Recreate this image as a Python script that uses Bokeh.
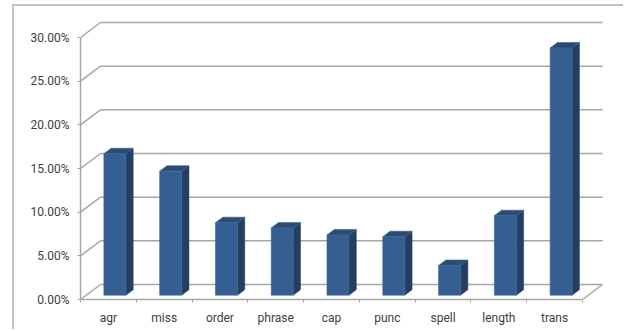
import numpy as np
from bokeh.plotting import figure
from bokeh.models import Range1d, FixedTicker, NumeralTickFormatter, CustomJSTickFormatter
from bokeh.embed import file_html
from bokeh.resources import INLINE

# ---- data ----
categories = ["agr", "miss", "order", "phrase", "cap", "punc", "spell", "length", "trans"]
values = [0.162, 0.142, 0.083, 0.077, 0.069, 0.067, 0.034, 0.091, 0.283]
y_ticks = [0.0, 0.05, 0.10, 0.15, 0.20, 0.25, 0.30]

# ---- geometry (pixels) ----
CAT_PX = 55.78          # px per category
Y_PX = 873.3            # px per 1.0 (100%)
FRAME_W, FRAME_H = 524, 279
x_end = FRAME_W / CAT_PX
y_end = FRAME_H / Y_PX
DX, DY = 20 / CAT_PX, 15 / Y_PX            # depth of the 3-D box
BAR_OFF = 6.5 / CAT_PX                      # bar shift within category
BAR_HW = 11 / CAT_PX                        # half width of front face
BAR_BASE = 4.3 / Y_PX                       # bar base lift
SDX, SDY = 7.3 / CAT_PX, 5.5 / Y_PX          # bar depth

n = len(categories)
GRID = "#a6a6a6"

p = figure(width=611, height=325, output_backend="svg", toolbar_location=None,
           x_range=Range1d(0, x_end), y_range=Range1d(0, y_end),
           min_border_left=66, min_border_top=14, min_border_right=21, min_border_bottom=32,
           margin=(4, 0, 0, 12))
p.styles = {"border-left": "2px solid #c4c4c4", "border-top": "2px solid #c4c4c4"}
p.outline_line_color = None
p.xgrid.visible = False
p.ygrid.visible = False
p.background_fill_color = "white"
p.border_fill_color = "white"

# back wall gridlines + left wall diagonals
for v in y_ticks:
    p.line([DX, n + DX], [v + DY, v + DY], line_color=GRID, line_width=1.5)
    p.line([0, DX], [v, v + DY], line_color=GRID, line_width=1.5)
# floor right edge
p.line([n, n + DX], [0, DY], line_color=GRID, line_width=1.5)

# bars
xs_c = np.arange(n) + 0.5 + BAR_OFF
vals = np.array(values)
xl = xs_c - BAR_HW
xr = xs_c + BAR_HW
yb = np.full(n, BAR_BASE)
yt = yb + vals

side_xs = [[xr[i], xr[i] + SDX, xr[i] + SDX, xr[i]] for i in range(n)]
side_ys = [[yb[i], yb[i] + SDY, yt[i] + SDY, yt[i]] for i in range(n)]
top_xs = [[xl[i], xr[i], xr[i] + SDX, xl[i] + SDX] for i in range(n)]
top_ys = [[yt[i], yt[i], yt[i] + SDY, yt[i] + SDY] for i in range(n)]
p.patches(side_xs, side_ys, fill_color="#243f62", line_color="#243f62", line_width=0.5)
p.patches(top_xs, top_ys, fill_color="#2c4c74", line_color="#3a5f8c", line_width=0.6)
p.quad(left=xl, right=xr, bottom=yb, top=yt, fill_color="#355f92", line_color="#3d6699", line_width=0.6)

# axes
FONT = "Roboto"
ya = p.yaxis[0]
ya.ticker = FixedTicker(ticks=y_ticks, minor_ticks=[])
ya.formatter = NumeralTickFormatter(format="0.00%")
ya.bounds = (0, 0.30)
ya.axis_line_color = GRID
ya.axis_line_width = 1.5
ya.major_tick_line_color = GRID
ya.major_tick_out = 3
ya.major_tick_in = 0
ya.major_label_standoff = 8
ya.major_label_text_font = FONT
ya.major_label_text_font_size = "12px"
ya.major_label_text_color = "#404040"

xa = p.xaxis[0]
xa.ticker = FixedTicker(ticks=[i + 0.5 for i in range(n)], minor_ticks=list(range(n + 1)))
xa.formatter = CustomJSTickFormatter(args=dict(cats=categories),
                                     code="return cats[Math.floor(tick)];")
xa.bounds = (0, n)
xa.axis_line_color = GRID
xa.axis_line_width = 1.5
xa.major_tick_line_color = None
xa.major_tick_out = 0
xa.major_tick_in = 0
xa.minor_tick_line_color = GRID
xa.minor_tick_out = 3
xa.minor_tick_in = 0
xa.major_label_standoff = 8
xa.major_label_text_font = FONT
xa.major_label_text_font_size = "12px"
xa.major_label_text_color = "#404040"

open("out.html", "w").write(file_html(p, INLINE))
